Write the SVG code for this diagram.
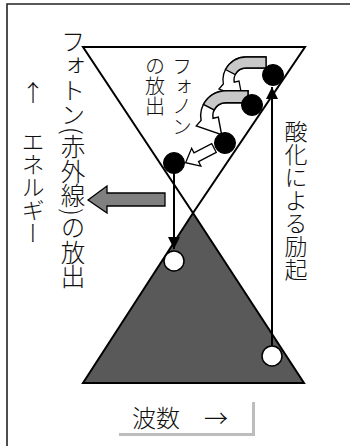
<svg xmlns="http://www.w3.org/2000/svg" width="350" height="446" viewBox="0 0 350 446">
<style>
text{font-family:"Noto Sans CJK JP","Noto Sans",sans-serif;font-weight:300;fill:#111}
.v{writing-mode:vertical-rl}
.ln{stroke:#000;stroke-width:2;fill:none}
.dot{fill:#000;stroke:#000;stroke-width:1}
.hole{fill:#fff;stroke:#000;stroke-width:1.5}
.wa{fill:#fff;stroke:#000;stroke-width:1.3;stroke-linejoin:miter}
.ga{fill:#c8c8c8;stroke:#000;stroke-width:1.3}
</style>
<defs>
<marker id="ah" viewBox="0 0 12 12" refX="12" refY="6" markerWidth="12" markerHeight="12" markerUnits="userSpaceOnUse" orient="auto">
<path d="M0,0 L12,6 L0,12 Z" fill="#000"/>
</marker>
<g id="curv">
<path class="wa" d="M20,-23 L0,-23 A23 23 0 0 0 -22.65,4 L-27,9 L-4,17 L-7,1 L-11.8,2.1 A12 12 0 0 1 0,-12 L20,-12 Z"/>
<path class="ga" d="M20,-23 L0,-23 A23 23 0 0 0 -20.5,-10.5 L-10.8,-5.5 A12 12 0 0 1 0,-12 L20,-12 Z"/>
</g>
</defs>
<path d="M7,446 V4 H350" fill="none" stroke="#222" stroke-width="1.6"/>
<g id="lower-band">
<path d="M193,213 L304,383 L83,383 Z" fill="#595959" stroke="#000" stroke-width="2"/>
</g>
<g id="upper-band">
<path d="M83,47 L305,47 L193,213 Z" fill="none" stroke="#000" stroke-width="2"/>
</g>
<g id="connectors">
<line class="ln" x1="174" y1="163" x2="174" y2="249" marker-end="url(#ah)"/>
<line class="ln" x1="272" y1="356" x2="272" y2="87" marker-end="url(#ah)"/>
<path d="M88,200 L107,186 L107,193 L165,193 L165,206 L107,206 L107,213 Z" fill="#808080" stroke="#000" stroke-width="1.3"/>
<use href="#curv" transform="translate(246,80)"/>
<use href="#curv" transform="translate(226,116) scale(1.1)"/>
<path class="wa" transform="translate(214,148) rotate(152.6)" d="M0,-5 L20,-5 L20,-10 L32,0 L20,10 L20,5 L0,5 Z"/>
</g>
<g id="electrons">
<circle class="dot" cx="273" cy="75" r="10.5"/>
<circle class="dot" cx="252" cy="105" r="10.5"/>
<circle class="dot" cx="225" cy="143" r="10.5"/>
<circle class="dot" cx="174" cy="163" r="10.5"/>
</g>
<g id="holes">
<circle class="hole" cx="174" cy="261" r="10"/>
<circle class="hole" cx="272" cy="356" r="10"/>
</g>
<g id="labels">
<text class="v" x="73" y="29" font-size="24.5">フォトン(赤外線)の放出</text>
<text x="33" y="101" font-size="23" text-anchor="middle">↑</text>
<text class="v" x="33" y="130" font-size="23">エネルギー</text>
<text class="v" x="182" y="56" font-size="20">フォノン</text>
<text class="v" x="155" y="56" font-size="20">の放出</text>
<text class="v" x="296" y="120" font-size="23">酸化による励起</text>
</g>
<g id="axis-label">
<polyline points="119,434.5 253.5,434.5 253.5,402" fill="none" stroke="#bdbdbd" stroke-width="3"/>
<text x="132" y="427" font-size="24">波数　→</text>
</g>
</svg>
